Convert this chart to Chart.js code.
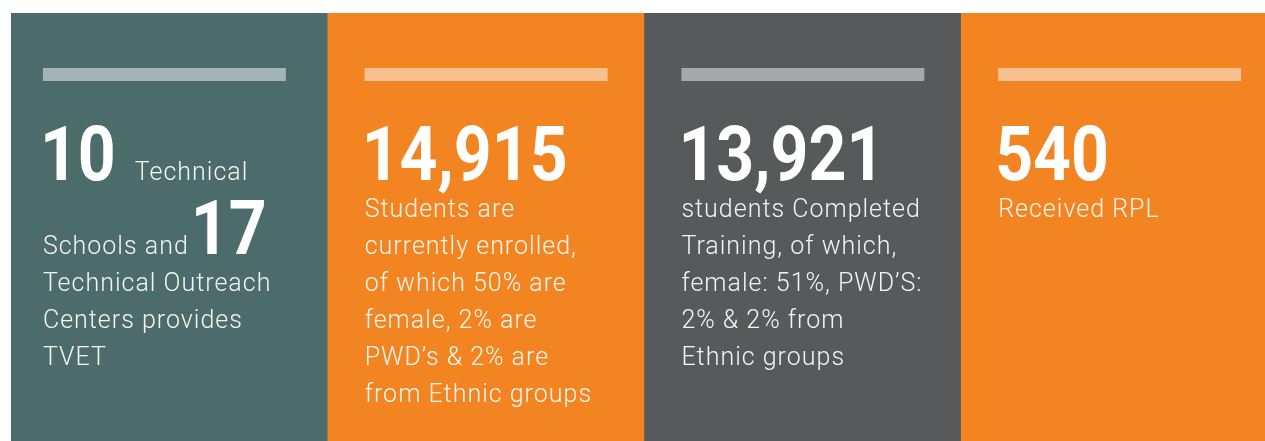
<!DOCTYPE html>
<html>
<head>
<meta charset="utf-8">
<script src="https://cdn.jsdelivr.net/npm/chart.js@4"></script>
<style>
  html, body { margin: 0; padding: 0; background: #fff; overflow: hidden; }
  #js_tvetChart { position: absolute; left: 0; top: 0; }
</style>
</head>
<body>
<canvas id="js_tvetChart" width="1280" height="441"></canvas>
<script>
// panel data
const categories = ['Institutions', 'Enrolled', 'Completed', 'RPL'];
const headlines = [10, 14915, 13921, 540];
const outreachCenters = 17;
const enrolledShares = [50, 2, 2]; // female, PWD, ethnic
const completedShares = [51, 2, 2];

// panel colours
const panelColor = ['#4b6c6b', '#f38422', '#58595b', '#f38422'];
const stripeColor = ['#a2b5b4', '#f7c18f', '#a7a8aa', '#f7c18f'];

const descriptions = [
  ['Schools and', 'Technical Outreach', 'Centers provides', 'TVET'],
  ['Students are', 'currently enrolled,', `of which ${enrolledShares[0]}% are`,
    `female, ${enrolledShares[1]}% are`, `PWD\u2019s & ${enrolledShares[2]}% are`, 'from Ethnic groups'],
  ['students Completed', 'Training, of which,', `female: ${completedShares[0]}%, PWD\u2019S:`,
    `${completedShares[1]}% & ${completedShares[2]}% from`, 'Ethnic groups'],
  ['Received RPL'],
];

const bodyColor = 'rgba(255,255,255,0.93)';
const bigSquash = 0.87;

// big figures: bold, squeezed a little to get the narrow DIN look
const drawBig = (ctx, text, x, y) => {
  ctx.save();
  ctx.font = '700 76px Roboto';
  ctx.letterSpacing = '0px';
  ctx.fillStyle = '#ffffff';
  ctx.translate(x, y);
  ctx.scale(bigSquash, 1);
  ctx.fillText(text, 0, 0);
  const w = ctx.measureText(text).width * bigSquash;
  ctx.restore();
  return w;
};
const setBody = (ctx) => {
  ctx.font = '300 25px Roboto';
  ctx.letterSpacing = '1px';
  ctx.fillStyle = bodyColor;
};

const panelText = {
  id: 'panelText',
  afterDatasetsDraw: (chart) => {
    const { ctx, chartArea } = chart;
    const bars = chart.getDatasetMeta(0).data;
    ctx.save();
    ctx.textBaseline = 'alphabetic';
    bars.forEach((bar, i) => {
      const stripeW = bar.width * 0.767;
      // first panel sits a little left of centre in the original
      const x = bar.x - stripeW / 2 - (i === 0 ? 5 : 0);
      ctx.fillStyle = stripeColor[i];
      ctx.fillRect(x, chartArea.top + 55, stripeW, 13);

      const head = headlines[i].toLocaleString('en-US');
      const w = drawBig(ctx, head, x - 3, 180);
      let lines = descriptions[i];
      let y = 217;
      if (i === 0) {
        setBody(ctx);
        ctx.fillText('Technical', x + w + 16, 180);
        const w2 = ctx.measureText(lines[0]).width;
        ctx.fillText(lines[0], x, 254);
        drawBig(ctx, String(outreachCenters), x + w2 + 2, 254);
        lines = lines.slice(1);
        y = 291;
      }
      setBody(ctx);
      lines.forEach((line) => {
        ctx.fillText(line, x, y);
        y += 37;
      });
    });
    ctx.restore();
  },
};

document.addEventListener('DOMContentLoaded', () => {
  const ctx = document.getElementById('js_tvetChart');
  new Chart(ctx, {
    type: 'bar',
    data: {
      labels: categories,
      datasets: [{
        data: categories.map(() => 1),
        backgroundColor: panelColor,
        borderWidth: 0,
        barPercentage: 1,
        categoryPercentage: 1,
      }],
    },
    options: {
      responsive: false,
      animation: false,
      devicePixelRatio: 1,
      layout: { padding: { top: 13, left: 11, right: 2, bottom: 0 } },
      plugins: { legend: { display: false }, tooltip: { enabled: false } },
      scales: {
        x: { display: false },
        y: { display: false, min: 0, max: 1 },
      },
    },
    plugins: [panelText],
  });
});
</script>
</body>
</html>
